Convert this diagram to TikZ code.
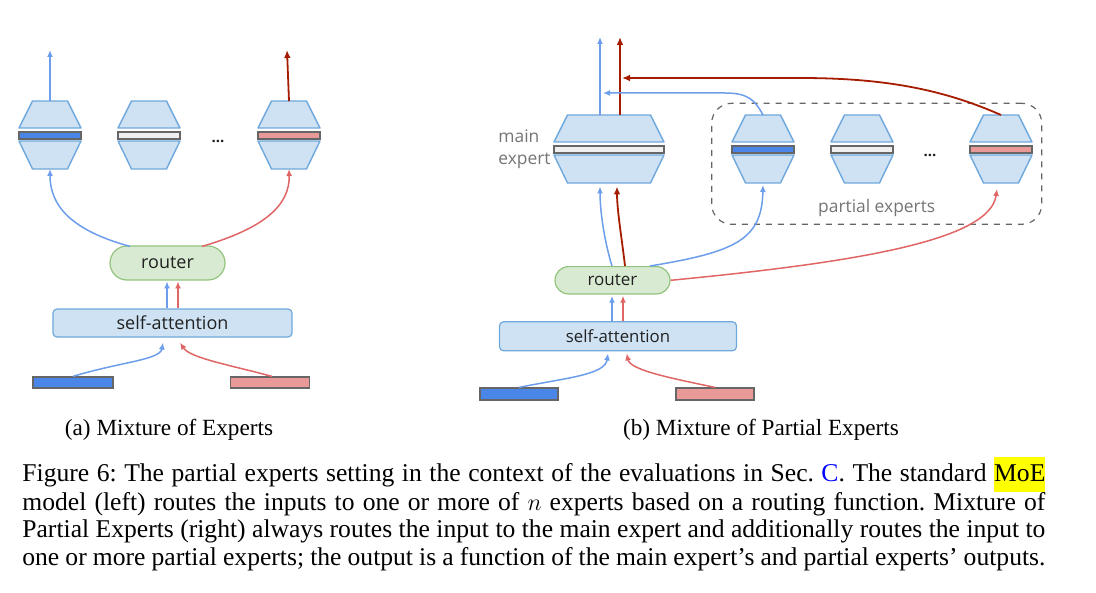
\documentclass[tikz,border=0pt]{standalone}
\usepackage{fontspec}
\setmainfont{Liberation Serif}
\newfontfamily\slidefont{Open Sans}
\usepackage{tikz}
\usetikzlibrary{arrows.meta,calc,positioning}
\frenchspacing
\definecolor{expFill}{HTML}{CFE2F3}
\definecolor{expDraw}{HTML}{6FA8DC}
\definecolor{barDraw}{HTML}{666666}
\definecolor{barBlue}{HTML}{4A86E8}
\definecolor{barRed}{HTML}{EA9999}
\definecolor{barGrey}{HTML}{EFEFEF}
\definecolor{routerFill}{HTML}{D9EAD3}
\definecolor{routerDraw}{HTML}{93C47D}
\definecolor{lineBlue}{HTML}{6D9EEB}
\definecolor{lineRed}{HTML}{E06666}
\definecolor{lineDark}{HTML}{A61C00}
\definecolor{groupGrey}{HTML}{666666}
\definecolor{labelGrey}{HTML}{757575}
\definecolor{textDark}{HTML}{212121}
\definecolor{linkBlue}{HTML}{0000FF}
\definecolor{hlYellow}{HTML}{FFFF00}

% expert: two trapezoids round a bar, drawn from the node's corners
\newcommand\drawexpert[2]{%
  \draw[expshape] ($(#1.north west)+(13.5,0)$) -- ($(#1.north east)+(-13.5,0)$)
    -- ($(#1.north east)+(0,27)$) -- ($(#1.north west)+(0,27)$) -- cycle;
  \draw[barbox, fill=#2] ($(#1.north west)+(0,31)$) rectangle ($(#1.north east)+(0,38)$);
  \draw[expshape] ($(#1.south west)+(0,-28)$) -- ($(#1.south east)+(0,-28)$)
    -- ($(#1.south east)+(-13.5,0)$) -- ($(#1.south west)+(13.5,0)$) -- cycle;
}

\begin{document}
\begin{tikzpicture}[x=0.5pt, y=-0.5pt,
    expert/.style={inner sep=0pt, outer sep=0pt, minimum width=31pt, minimum height=34pt},
    expshape/.style={draw=expDraw, fill=expFill, line width=0.7pt, line join=round},
    barbox/.style={draw=barDraw, line width=0.7pt},
    router/.style={draw=routerDraw, fill=routerFill, line width=0.6pt, text=textDark, inner sep=0pt},
    attn/.style={draw=expDraw, fill=expFill, rounded corners=2pt, line width=0.6pt, text=textDark, inner sep=0pt},
    token/.style={draw=barDraw, line width=0.6pt, inner sep=0pt, minimum width=39.5pt},
    dots/.style={font=\slidefont\bfseries\fontsize{7.5pt}{8pt}\selectfont, text=textDark, anchor=base},
    group/.style={draw=groupGrey, dashed, rounded corners=10pt, line width=0.6pt, inner sep=0pt,
      minimum width=165pt, minimum height=60.5pt},
    grouplabel/.style={font=\slidefont\fontsize{8.7pt}{11pt}\selectfont, text=labelGrey, inner sep=0pt},
    bluearrow/.style={-{Latex[length=3.5pt,width=3pt]}, draw=lineBlue, line width=0.75pt},
    redarrow/.style={-{Latex[length=3.5pt,width=3pt]}, draw=lineRed, line width=0.75pt},
    darkarrow/.style={-{Latex[length=4pt,width=3.4pt]}, draw=lineDark, line width=0.9pt},
    subcap/.style={font=\fontsize{11.6pt}{13pt}\selectfont, anchor=base, inner sep=0pt},
    capline/.style={font=\fontsize{12.8pt}{14pt}\selectfont, anchor=base west, inner sep=0pt}
  ]
  \useasboundingbox (0,0) rectangle (1096,593);

  % (a) mixture of experts
  \node[expert] (eA1) at (50,135) {};
  \node[expert] (eA2) at (149,135) {};
  \node[expert] (eAn) at (289,135) {};
  \drawexpert{eA1}{barBlue}
  \drawexpert{eA2}{barGrey}
  \drawexpert{eAn}{barRed}
  \node[dots] (dotsA) at (218,143) {...};
  \node[router, rounded corners=8.5pt, minimum width=57.5pt, minimum height=17pt,
    font=\slidefont\fontsize{9pt}{11pt}\selectfont] (rA) at (167.5,263) {router};
  \node[attn, minimum width=119.5pt, minimum height=14pt,
    font=\slidefont\fontsize{9pt}{11pt}\selectfont] (saA) at (172.5,323) {self-attention};
  \node[token, fill=barBlue, minimum width=40pt, minimum height=5.5pt] (tA1) at (73,382.5) {};
  \node[token, fill=barRed, minimum height=5.5pt] (tA2) at (270,382.5) {};
  \coordinate (outA1) at (50,50);
  \coordinate (outAn) at (287,50);

  \draw[bluearrow] (eA1.north) -- (outA1);
  \draw[darkarrow] (eAn.north) -- (outAn);
  \draw[bluearrow] ($(rA.north)+(-37.5,1)$) .. controls (70,230) and (50,205) .. (eA1.south);
  \draw[redarrow] ($(rA.north)+(34.5,1)$) .. controls (265,228) and (290,205) .. (eAn.south);
  \draw[bluearrow] ($(saA.north)+(-5.5,0)$) -- ($(saA.north)+(-5.5,-27)$);
  \draw[redarrow] ($(saA.north)+(5.5,0)$) -- ($(saA.north)+(5.5,-27)$);
  \draw[bluearrow] (tA1.north) .. controls (120,362) and (160,360) .. ($(saA.south)+(-9.5,5)$);
  \draw[redarrow] ($(tA2.north)+(2,0)$) .. controls (230,365) and (190,358) .. ($(saA.south)+(7.5,5)$);

  % (b) mixture of partial experts
  \node[group] (pgroup) at (876.7,163.8) {};
  \node[grouplabel] (plabel) at (876.7,208) {partial experts};
  \node[expert, minimum width=55pt] (mainB) at (609,149) {};
  \node[expert] (pB1) at (763,149) {};
  \node[expert] (pB2) at (862,149) {};
  \node[expert] (pBn) at (1001,149) {};
  \drawexpert{mainB}{barGrey}
  \drawexpert{pB1}{barBlue}
  \drawexpert{pB2}{barGrey}
  \drawexpert{pBn}{barRed}
  \node[dots] (dotsB) at (930,157) {...};
  \node[grouplabel, align=left, anchor=west] (mlabel) at (498,149) {main\\expert};
  \node[router, rounded corners=6.8pt, minimum width=57.5pt, minimum height=13.7pt,
    font=\slidefont\fontsize{8.5pt}{10pt}\selectfont] (rB) at (612.5,280.3) {router};
  \node[attn, minimum width=118.5pt, minimum height=14.5pt,
    font=\slidefont\fontsize{8.4pt}{10pt}\selectfont] (saB) at (618,336.3) {self-attention};
  \node[token, fill=barBlue, minimum width=39pt, minimum height=6pt] (tB1) at (519,394) {};
  \node[token, fill=barRed, minimum width=39pt, minimum height=6pt] (tB2) at (715,394) {};
  \coordinate (outB1) at (600,37);
  \coordinate (outB2) at (620,37);
  \coordinate (bluejoin) at (603,93);
  \coordinate (redjoin) at (622,78);

  \draw[bluearrow] ($(mainB.north)+(-9,0)$) -- (outB1);
  \draw[darkarrow] ($(mainB.north)+(11,0)$) -- (outB2);
  \draw[bluearrow] (pB1.north) .. controls (755,100) and (748,93) .. (725,93) -- (bluejoin);
  \draw[darkarrow] (pBn.north) .. controls (940,88) and (880,78) .. (800,78) -- (redjoin);
  \draw[bluearrow] ($(rB.north)+(-0.5,0)$) .. controls (604,240) and (600,210) .. ($(mainB.south)+(-9,3.5)$);
  \draw[darkarrow] ($(rB.north)+(12.5,0)$) .. controls (622,240) and (617,210) .. ($(mainB.south)+(8,3.5)$);
  \draw[bluearrow] ($(rB.north)+(37.5,0)$) .. controls (735,252) and (762,240) .. ($(pB1.south)+(0,2)$);
  \draw[redarrow] (rB.east) .. controls (860,262) and (990,240) .. ($(pBn.south)+(-4,6)$);
  \draw[bluearrow] ($(saB.north)+(-6,0)$) -- ($(saB.north)+(-6,-25.5)$);
  \draw[redarrow] ($(saB.north)+(5,0)$) -- ($(saB.north)+(5,-25.5)$);
  \draw[bluearrow] (tB1.north) .. controls (565,378) and (605,375) .. ($(saB.south)+(-10,2)$);
  \draw[redarrow] (tB2.north) .. controls (670,378) and (630,370) .. ($(saB.south)+(8.7,2)$);

  % captions
  \node[subcap] (capA) at (169,435) {(a) Mixture of Experts};
  \node[subcap] (capB) at (761,435) {(b) Mixture of Partial Experts};
  \node[capline] (cap1) at (22,481.7) {\makebox[511.5pt][s]{Figure 6: The partial experts setting in the context of the evaluations in Sec. \textcolor{linkBlue}{C}. The standard {\setlength\fboxsep{0pt}\colorbox{hlYellow}{\rule[-5pt]{0pt}{17.5pt}MoE}}}};
  \node[capline] (cap2) at (22,510) {\makebox[511.5pt][s]{model (left) routes the inputs to one or more of $n$ experts based on a routing function. Mixture of}};
  \node[capline] (cap3) at (22,537.7) {\makebox[511.5pt][s]{Partial Experts (right) always routes the input to the main expert and additionally routes the input to}};
  \node[capline] (cap4) at (22,565) {\makebox[511.5pt][s]{one or more partial experts; the output is a function of the main expert's and partial experts' outputs.}};
\end{tikzpicture}
\end{document}
